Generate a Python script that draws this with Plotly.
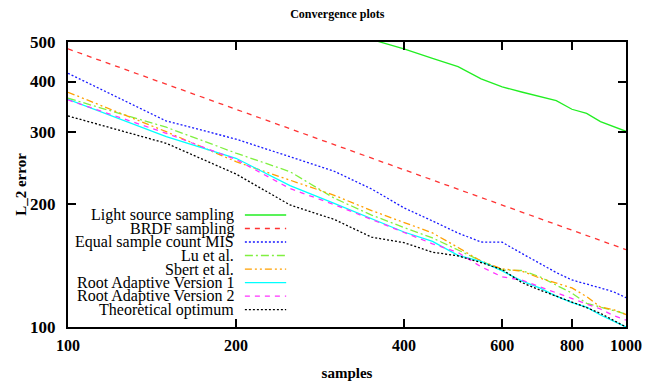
import plotly.graph_objects as go

samples = [100, 150, 200, 250, 300, 350, 400, 450, 500, 550, 600, 650, 700, 750, 800, 850, 900, 950, 1000]

light_x = [350, 400, 450, 500, 550, 600, 650, 700, 750, 800, 850, 900, 950, 1000]
light_source = [507, 481, 456, 435, 406, 388, 377, 368, 359, 342, 334, 319, 310, 302]

brdf = [481, 394, 342, 306, 280, 259, 243, 229, 218, 208, 199, 191, 184.5, 178.4, 172.8, 167.7, 163, 158.8, 154.8]
equal_mis = [419, 320, 289, 262, 241, 218, 196, 182, 170, 161.6, 161.4, 151.6, 143.3, 136, 130.4, 127.6, 124.7, 122, 118]
lu = [364, 309, 267, 240.4, 207, 188.2, 175.4, 165.4, 154.5, 145.2, 138, 137.6, 132.9, 126.9, 121.1, 114.3, 111.9, 109.8, 107.6]
sbert = [376.5, 301.3, 254.4, 229.4, 210.4, 193, 180.5, 170.1, 156.7, 145, 138.8, 137.2, 131.9, 128.2, 124.7, 118.7, 111.9, 110.3, 107.3]
root_v1 = [361.9, 292.9, 259.3, 222.3, 201.1, 184.2, 171, 162.2, 149.9, 144.8, 137.2, 129.7, 124.7, 119.1, 114.8, 111.9, 107, 103.4, 100]
root_v2 = [360.5, 298.6, 257.6, 218.5, 199.6, 183.5, 169.9, 160, 152.3, 140.5, 132.7, 130.4, 125.6, 121.3, 117.3, 113.9, 110.7, 106.7, 104]
optimum = [329.3, 282.2, 237.3, 199.2, 183.6, 166.1, 161, 152.6, 149.4, 143.9, 138.3, 128.6, 123.3, 119.1, 115.5, 111.6, 108, 104, 100]

x_ticks = [100, 200, 400, 600, 800, 1000]
y_ticks = [100, 200, 300, 400, 500]

names = ["Light source sampling", "BRDF sampling", "Equal sample count MIS", "Lu et al.",
         "Sbert et al.", "Root Adaptive Version 1", "Root Adaptive Version 2", "Theoretical optimum"]
colors = ["#22ee22", "#ff3333", "#1a1aff", "#80f040", "#ffa000", "#00ffff", "#ff33ff", "#000000"]
dashes = ["solid", "5px,5px", "2px,2px", "8px,3px,2px,3px", "7px,3px,2px,3px,2px,3px", "solid", "5px,5px", "2px,2px"]

xs = [light_x] + [samples] * 7
ys = [light_source, brdf, equal_mis, lu, sbert, root_v1, root_v2, optimum]

fig = go.Figure()
for name, x, y, c, d in zip(names, xs, ys, colors, dashes):
    fig.add_trace(go.Scatter(x=x, y=y, mode="lines", name=name,
                             line=dict(color=c, width=1.3, dash=d), showlegend=False))

font = "Liberation Serif"
# custom legend: right-aligned text with sample line to the right
ann = []
shapes = []
row_top = 0.393
row_step = 0.0474
for i, (name, c, d) in enumerate(zip(names, colors, dashes)):
    yy = row_top - i * row_step
    ann.append(dict(x=0.301, y=yy, xref="paper", yref="paper", text=name, showarrow=False,
                    xanchor="right", yanchor="middle",
                    font=dict(family=font, size=16, color="black")))
    shapes.append(dict(type="line", xref="paper", yref="paper", x0=0.317, x1=0.391, y0=yy, y1=yy,
                       line=dict(color=c, width=1.3, dash=d)))

fig.update_layout(
    width=655, height=383,
    margin=dict(l=68, r=29, t=42, b=56, autoexpand=False),
    paper_bgcolor="white", plot_bgcolor="white",
    title=dict(text="<b>Convergence plots</b>", x=0.515, xanchor="center", y=0.963, yanchor="middle",
               font=dict(family=font, size=12, color="black")),
    annotations=ann,
    shapes=shapes,
    xaxis=dict(type="log", range=[2, 3], tickvals=x_ticks, automargin=False,
               ticktext=["<b>%d</b>" % v for v in x_ticks],
               ticks="inside", ticklen=8, tickwidth=2, tickcolor="black",
               showline=True, linewidth=2, linecolor="black", mirror="ticks", showgrid=False, zeroline=False,
               tickfont=dict(family=font, size=16, color="black"), ticklabelstandoff=3,
               title=dict(text="<b>samples</b>", font=dict(family=font, size=15, color="black"), standoff=14)),
    yaxis=dict(type="log", range=[2, 0.69897 + 2], tickvals=y_ticks, automargin=False,
               ticktext=["<b>%d</b>" % v for v in y_ticks],
               ticks="inside", ticklen=8, tickwidth=2, tickcolor="black",
               showline=True, linewidth=2, linecolor="black", mirror="ticks", showgrid=False, zeroline=False,
               tickfont=dict(family=font, size=17, color="black"), ticklabelstandoff=7,
               title=dict(text="<b>L_2 error</b>", font=dict(family=font, size=15, color="black"), standoff=0)),
)

fig.write_html("out.html", config={"displayModeBar": False},
               post_script="document.body.style.margin='0px';")
